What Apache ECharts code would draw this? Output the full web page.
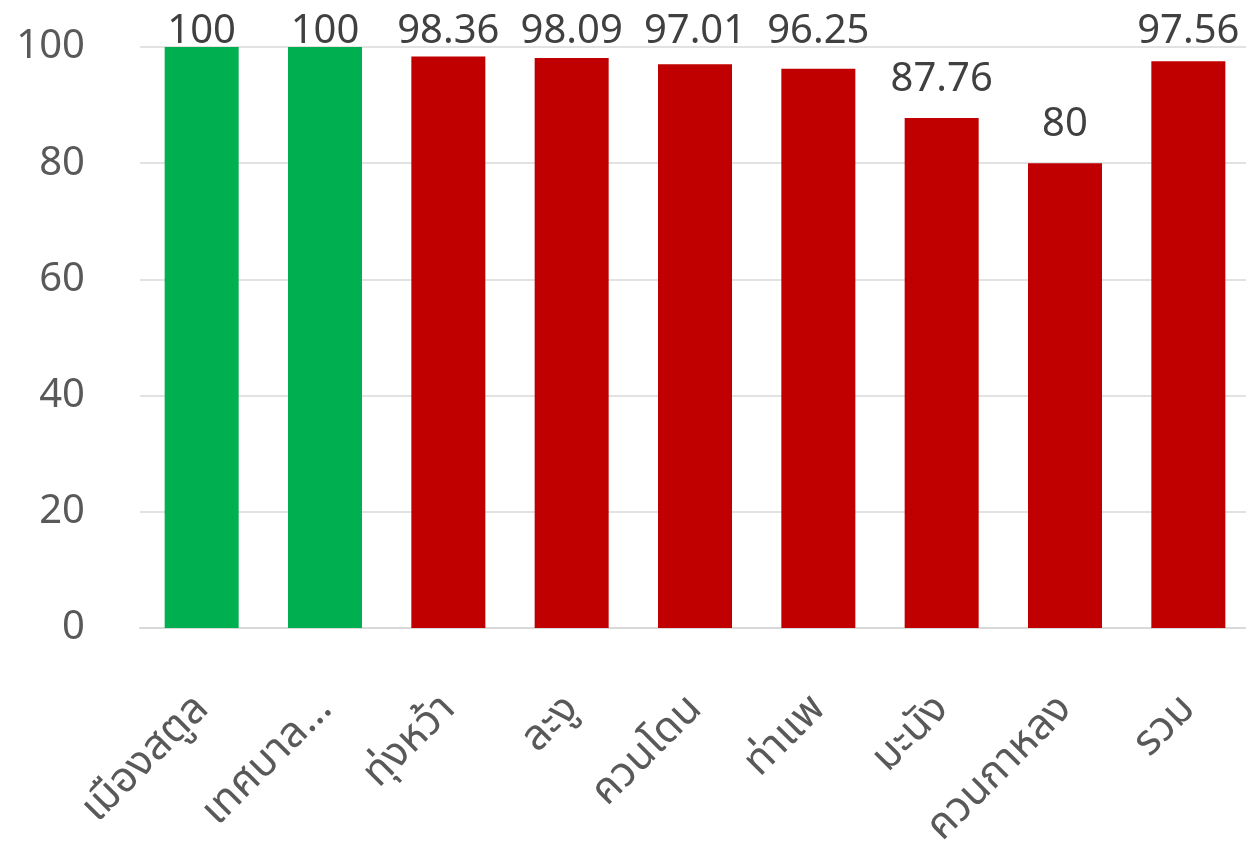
<!DOCTYPE html>
<html>
<head>
<meta charset="utf-8">
<script src="https://cdn.jsdelivr.net/npm/echarts@6/dist/echarts.min.js"></script>
<style>
  html, body { margin: 0; padding: 0; background: #fff; }
  #chart { width: 1246px; height: 843px; }
</style>
</head>
<body>
<div id="chart"></div>
<script>
const categories = ["เมืองสตูล", "เทศบาล…", "ทุ่งหว้า", "ละงู", "ควนโดน", "ท่าแพ", "มะนัง", "ควนกาหลง", "รวม"];
const values = [100, 100, 98.36, 98.09, 97.01, 96.25, 87.76, 80, 97.56];

const FONT = '"Noto Sans", "Noto Sans Thai", "DejaVu Sans", sans-serif';
const plotH = 581; // grid height in px, labels near the top get pinned like Excel does

const chart = echarts.init(document.getElementById("chart"));

const option = {
  animation: false,
  backgroundColor: "#fff",
  grid: { left: 140, right: -4, top: 47, bottom: 215, containLabel: false, outerBoundsMode: "none" },
  xAxis: {
    type: "category",
    data: categories,
    axisLine: { show: true, lineStyle: { color: "#d9d9d9", width: 2 } },
    axisTick: { show: false },
    axisLabel: {
      rotate: 45,
      interval: 0,
      margin: 74,
      color: "#595959",
      fontSize: 42,
      fontFamily: FONT
    }
  },
  yAxis: {
    type: "value",
    min: 0,
    max: 100,
    interval: 20,
    axisLine: { show: false },
    axisTick: { show: false },
    splitLine: { lineStyle: { color: "#d9d9d9", width: 1.5 } },
    axisLabel: {
      color: "#595959",
      fontSize: 40,
      fontFamily: FONT,
      margin: 55
    }
  },
  series: [
    {
      type: "bar",
      barCategoryGap: "40%",
      data: values.map(v => ({
        value: v,
        itemStyle: { color: v === 100 ? "#00B050" : "#C00000" },
        label: { distance: Math.min(24, (100 - v) * plotH / 100) - 5 }
      })),
      label: {
        show: true,
        position: "top",
        color: "#404040",
        fontSize: 40,
        fontFamily: FONT
      }
    }
  ]
};

chart.setOption(option);
</script>
</body>
</html>
